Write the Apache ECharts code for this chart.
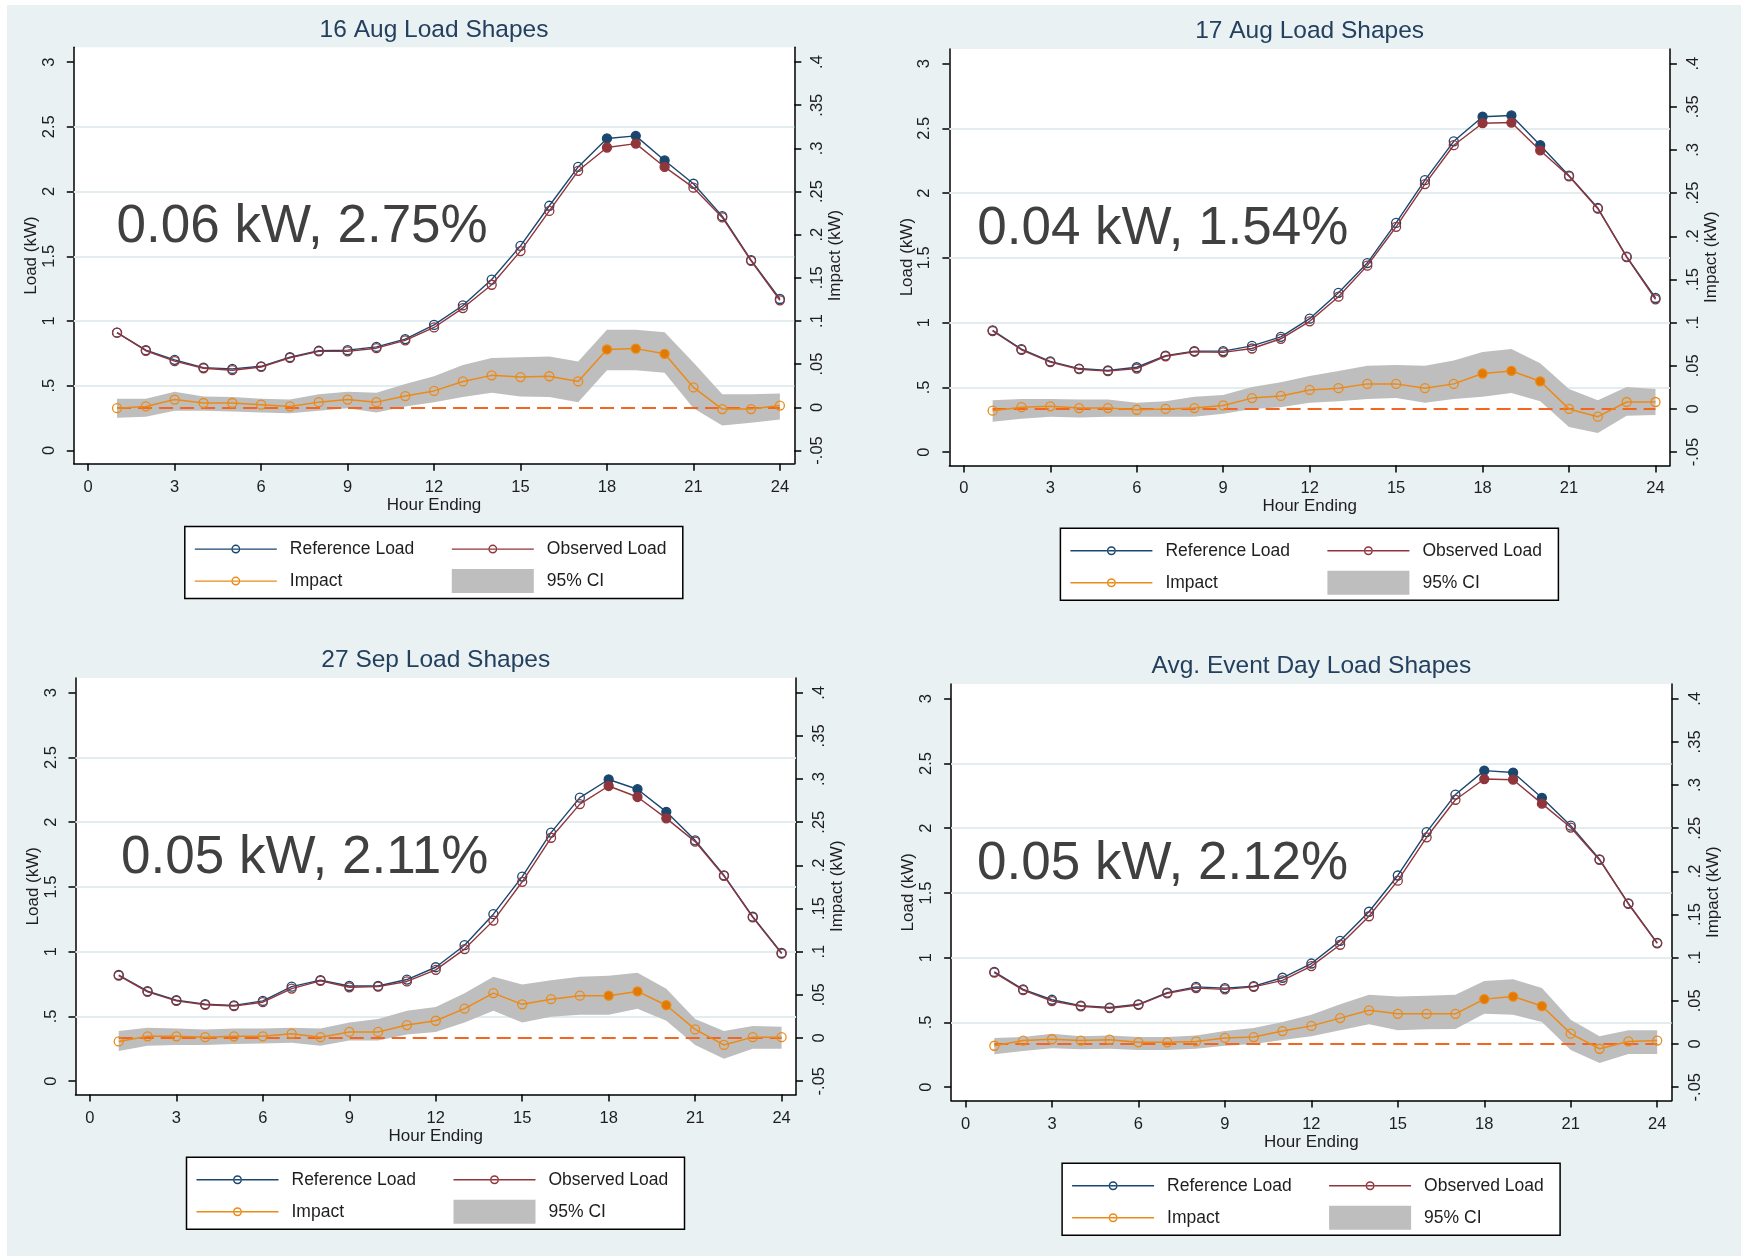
<!DOCTYPE html>
<html>
<head>
<meta charset="utf-8">
<title>Event Day Load Shapes</title>
<script src="https://cdn.jsdelivr.net/npm/echarts@6/dist/echarts.min.js"></script>
<style>
  html, body { margin: 0; padding: 0; background: #fff; }
  #chart { position: absolute; left: 7px; top: 5px; width: 1734px; height: 1251px; }
</style>
</head>
<body>
<div id="chart"></div>
<script>
// hours and tick values
const hours = [1, 2, 3, 4, 5, 6, 7, 8, 9, 10, 11, 12, 13, 14, 15, 16, 17, 18, 19, 20, 21, 22, 23, 24];
const eventHours = [18, 19, 20];
const hourTicks = [0, 3, 6, 9, 12, 15, 18, 21, 24];
const loadTicks = [0, 0.5, 1, 1.5, 2, 2.5, 3];
const impactTicks = [-0.05, 0, 0.05, 0.1, 0.15, 0.2, 0.25, 0.3, 0.35, 0.4];
const loadGridLines = [0.5, 1, 1.5, 2, 2.5];

const panelTitles = ['16 Aug Load Shapes', '17 Aug Load Shapes', '27 Sep Load Shapes', 'Avg. Event Day Load Shapes'];
const impactNotes = ['0.06 kW, 2.75%', '0.04 kW, 1.54%', '0.05 kW, 2.11%', '0.05 kW, 2.12%'];

// one row per panel (16 Aug, 17 Aug, 27 Sep, average)
const referenceLoad = [
  [0.91, 0.775, 0.70, 0.64, 0.63, 0.65, 0.72, 0.77, 0.775, 0.80, 0.86, 0.97, 1.12, 1.32, 1.58, 1.89, 2.19, 2.41, 2.43, 2.24, 2.06, 1.81, 1.47, 1.17],
  [0.94, 0.795, 0.70, 0.645, 0.63, 0.655, 0.745, 0.78, 0.78, 0.82, 0.89, 1.03, 1.23, 1.46, 1.77, 2.10, 2.40, 2.59, 2.60, 2.37, 2.135, 1.885, 1.51, 1.19],
  [0.82, 0.695, 0.625, 0.595, 0.585, 0.62, 0.73, 0.78, 0.735, 0.735, 0.785, 0.88, 1.05, 1.29, 1.58, 1.92, 2.19, 2.33, 2.255, 2.08, 1.86, 1.59, 1.27, 0.99],
  [0.89, 0.755, 0.675, 0.63, 0.615, 0.64, 0.73, 0.775, 0.765, 0.78, 0.845, 0.955, 1.13, 1.355, 1.635, 1.97, 2.26, 2.445, 2.43, 2.235, 2.02, 1.76, 1.42, 1.115]
];
const observedLoad = [
  [0.91, 0.77, 0.69, 0.635, 0.62, 0.645, 0.715, 0.765, 0.765, 0.79, 0.85, 0.95, 1.10, 1.28, 1.54, 1.85, 2.16, 2.34, 2.37, 2.19, 2.03, 1.80, 1.465, 1.16],
  [0.935, 0.79, 0.695, 0.64, 0.625, 0.645, 0.74, 0.775, 0.77, 0.80, 0.875, 1.01, 1.20, 1.44, 1.74, 2.07, 2.37, 2.54, 2.545, 2.33, 2.13, 1.88, 1.505, 1.18],
  [0.815, 0.69, 0.62, 0.59, 0.58, 0.61, 0.715, 0.775, 0.725, 0.73, 0.77, 0.86, 1.02, 1.24, 1.54, 1.88, 2.14, 2.28, 2.195, 2.03, 1.85, 1.585, 1.265, 0.985],
  [0.885, 0.75, 0.665, 0.625, 0.61, 0.635, 0.725, 0.765, 0.755, 0.775, 0.825, 0.935, 1.10, 1.32, 1.595, 1.93, 2.22, 2.38, 2.375, 2.19, 2.005, 1.755, 1.415, 1.11]
];
const impact = [
  [-0.001, 0.001, 0.009, 0.005, 0.005, 0.003, 0.001, 0.006, 0.009, 0.006, 0.013, 0.019, 0.030, 0.037, 0.035, 0.036, 0.030, 0.067, 0.068, 0.062, 0.023, -0.002, -0.002, 0.002],
  [-0.002, 0.002, 0.003, 0.001, 0.001, -0.001, 0, 0.001, 0.004, 0.0125, 0.015, 0.022, 0.024, 0.029, 0.029, 0.024, 0.029, 0.041, 0.044, 0.032, 0.000, -0.009, 0.008, 0.008],
  [-0.004, 0.002, 0.002, 0.001, 0.002, 0.002, 0.005, 0.001, 0.007, 0.007, 0.015, 0.020, 0.034, 0.052, 0.039, 0.045, 0.049, 0.049, 0.054, 0.038, 0.010, -0.008, 0.001, 0.001],
  [-0.002, 0.004, 0.0055, 0.004, 0.005, 0.002, 0.002, 0.003, 0.007, 0.008, 0.015, 0.021, 0.030, 0.039, 0.035, 0.035, 0.035, 0.052, 0.055, 0.044, 0.012, -0.0055, 0.003, 0.004]
];
const ciLower = [
  [-0.012, -0.011, -0.004, -0.004, -0.005, -0.006, -0.007, -0.004, -0.001, -0.006, 0.001, 0.006, 0.012, 0.017, 0.0125, 0.012, 0.006, 0.043, 0.043, 0.040, -0.001, -0.021, -0.018, -0.014],
  [-0.015, -0.0115, -0.009, -0.010, -0.009, -0.009, -0.009, -0.009, -0.0055, 0, 0.002, 0.007, 0.009, 0.0115, 0.0125, 0.007, 0.0115, 0.014, 0.0185, 0.009, -0.021, -0.028, -0.008, -0.007],
  [-0.015, -0.009, -0.008, -0.008, -0.007, -0.0065, -0.0055, -0.009, -0.003, -0.003, 0.004, 0.007, 0.018, 0.0315, 0.018, 0.0245, 0.027, 0.027, 0.034, 0.020, -0.008, -0.024, -0.0125, -0.0125],
  [-0.012, -0.008, -0.005, -0.006, -0.0055, -0.007, -0.007, -0.0055, -0.002, 0, 0.0045, 0.009, 0.016, 0.023, 0.016, 0.017, 0.0175, 0.035, 0.034, 0.0255, -0.007, -0.022, -0.0115, -0.0115]
];
const ciUpper = [
  [0.010, 0.010, 0.018, 0.0125, 0.012, 0.010, 0.009, 0.015, 0.018, 0.017, 0.027, 0.036, 0.049, 0.057, 0.058, 0.059, 0.053, 0.090, 0.090, 0.087, 0.052, 0.015, 0.015, 0.016],
  [0.010, 0.0115, 0.0115, 0.011, 0.011, 0.007, 0.009, 0.014, 0.016, 0.0255, 0.031, 0.038, 0.044, 0.050, 0.051, 0.050, 0.056, 0.066, 0.0695, 0.053, 0.023, 0.010, 0.0255, 0.023],
  [0.008, 0.012, 0.011, 0.010, 0.011, 0.011, 0.012, 0.011, 0.018, 0.022, 0.0315, 0.036, 0.052, 0.071, 0.062, 0.067, 0.071, 0.072, 0.0755, 0.057, 0.022, 0.008, 0.014, 0.013],
  [0.007, 0.008, 0.012, 0.009, 0.010, 0.008, 0.008, 0.010, 0.015, 0.0185, 0.0255, 0.034, 0.046, 0.057, 0.055, 0.056, 0.057, 0.073, 0.075, 0.065, 0.028, 0.009, 0.016, 0.016]
];

// layout (page pixels; chart div sits at 7,5)
const pageX = 7, pageY = 5;
const gridLeft = [73.8, 949.4, 75.5, 951.1];
const gridTop = [47.3, 48.9, 678, 684];
const gridW = 720.5, gridH = 416.5;
const noteLeft = [42.7, 27.8, 45.5, 25.9];

const NAVY = '#1a476f', MAROON = '#90353b', ORANGE = '#ec8a17', ORANGE_DK = '#e07a05', BAND = '#bebebe';
const ZERO = '#f4661f', GRIDLINE = '#e3edf0', TXT = '#1e1e1e', TITLE = '#24405f';
const FONT = '"Liberation Sans", Arial, sans-serif';

// legend icons: line with small hollow circle, and grey box
const lineIcon = 'path://M0,0M90,24M0,11.3H36.5V12.7H0ZM45.5,11.3H82V12.7H45.5ZM38.2,11.3H43.8V12.7H38.2Z' +
  'M36.5,12A4.5,4.5,0,1,0,45.5,12A4.5,4.5,0,1,0,36.5,12ZM38,12A3,3,0,1,1,44,12A3,3,0,1,1,38,12Z';
const boxIcon = 'path://M0,0M90,24M0,0H82V24H0Z';

function stataNum(v) {
  return String(+v.toFixed(4)).replace(/^(-?)0\./, '$1.');
}

function pointData(vals, color) {
  return hours.map((h, i) => eventHours.indexOf(h) >= 0
    ? { value: [h, vals[i]], symbol: 'circle', itemStyle: { color: color } }
    : [h, vals[i]]);
}

// whole CI band drawn once as a polygon through the axis scales
function bandRenderer(p) {
  return function (params, api) {
    if (params.dataIndex !== 0) return null;
    const upper = hours.map((h, i) => api.coord([h, ciUpper[p][i]]));
    const lower = hours.map((h, i) => api.coord([h, ciLower[p][i]])).reverse();
    return {
      type: 'polygon',
      shape: { points: upper.concat(lower) },
      style: { fill: BAND }
    };
  };
}

const chart = echarts.init(document.getElementById('chart'));

const grids = [], xAxes = [], yAxes = [], series = [], legends = [], graphics = [];
const axisLineStyle = { color: '#000', width: 1.5 };

panelTitles.forEach((title, p) => {
  const gl = gridLeft[p] - pageX, gt = gridTop[p] - pageY;
  grids.push({ left: gl, top: gt, width: gridW, height: gridH, show: true, backgroundColor: '#fff', borderWidth: 0 });

  xAxes.push({
    type: 'value', gridIndex: p, min: -0.5, max: 24.5,
    name: 'Hour Ending', nameLocation: 'middle', nameGap: 30,
    nameTextStyle: { fontSize: 17, color: TXT },
    axisLine: { show: true, onZero: false, lineStyle: axisLineStyle },
    axisTick: { show: true, length: 7, customValues: hourTicks, lineStyle: axisLineStyle },
    axisLabel: { customValues: hourTicks, margin: 15, fontSize: 16.5, color: TXT },
    splitLine: { show: false }
  });

  yAxes.push({
    type: 'value', gridIndex: p, position: 'left', min: -0.103, max: 3.114,
    name: 'Load (kW)', nameLocation: 'middle', nameGap: 33,
    nameTextStyle: { fontSize: 17, color: TXT },
    axisLine: { show: true, onZero: false, lineStyle: axisLineStyle },
    axisTick: { show: true, length: 7, customValues: loadTicks, lineStyle: axisLineStyle },
    axisLabel: { customValues: loadTicks, rotate: 90, margin: 16, fontSize: 16.5, color: TXT, formatter: stataNum },
    splitLine: { show: false }
  });
  yAxes.push({
    type: 'value', gridIndex: p, position: 'right', min: -0.06545, max: 0.4171,
    name: 'Impact (kW)', nameLocation: 'middle', nameGap: 30,
    nameTextStyle: { fontSize: 17, color: TXT },
    axisLine: { show: true, onZero: false, lineStyle: axisLineStyle },
    axisTick: { show: true, length: 7, customValues: impactTicks, lineStyle: axisLineStyle },
    axisLabel: { customValues: impactTicks, rotate: 90, margin: 15, fontSize: 16.5, color: TXT, formatter: stataNum },
    splitLine: { show: false }
  });

  const leftY = 2 * p, rightY = 2 * p + 1;

  series.push({
    type: 'custom', name: '95% CI', xAxisIndex: p, yAxisIndex: rightY, z: 2, silent: true,
    itemStyle: { color: BAND },
    data: hours.map((h, i) => [h, ciLower[p][i], ciUpper[p][i]]),
    encode: { x: 0, y: [1, 2] },
    renderItem: bandRenderer(p)
  });

  series.push({
    type: 'line', name: 'Impact', xAxisIndex: p, yAxisIndex: rightY, z: 4,
    symbol: 'circle', symbolSize: 9,
    lineStyle: { color: ORANGE, width: 1.5 },
    itemStyle: { color: 'rgba(255,255,255,0)', borderColor: ORANGE, borderWidth: 1.3 },
    data: pointData(impact[p], ORANGE_DK),
    markLine: {
      silent: true, z: 3, symbol: ['none', 'none'], label: { show: false },
      lineStyle: { color: ZERO, type: [14, 7], width: 2 },
      data: [[{ coord: [hours[0], 0] }, { coord: [hours[hours.length - 1], 0] }]]
    }
  });

  series.push({
    type: 'line', name: 'Reference Load', xAxisIndex: p, yAxisIndex: leftY, z: 5,
    symbol: 'circle', symbolSize: 9,
    lineStyle: { color: NAVY, width: 1.4 },
    itemStyle: { color: 'rgba(255,255,255,0)', borderColor: NAVY, borderWidth: 1.3 },
    data: pointData(referenceLoad[p], NAVY),
    markLine: {
      silent: true, z: 1, symbol: ['none', 'none'], label: { show: false },
      lineStyle: { color: GRIDLINE, type: 'solid', width: 2 },
      data: loadGridLines.map(v => ({ yAxis: v }))
    }
  });

  series.push({
    type: 'line', name: 'Observed Load', xAxisIndex: p, yAxisIndex: leftY, z: 6,
    symbol: 'circle', symbolSize: 9,
    lineStyle: { color: MAROON, width: 1.4 },
    itemStyle: { color: 'rgba(255,255,255,0)', borderColor: MAROON, borderWidth: 1.3 },
    data: pointData(observedLoad[p], MAROON)
  });

  legends.push({
    left: gl + 111, top: gt + 479.3, width: 480, orient: 'horizontal',
    itemWidth: 90, itemHeight: 24, itemGap: 8, selectedMode: false, symbolKeepAspect: true,
    padding: [10.5, 16, 5.5, 10], borderColor: '#000', borderWidth: 1.5, backgroundColor: '#fff',
    textStyle: { fontSize: 17.5, color: TXT, width: 154, lineHeight: 20 },
    data: [
      { name: 'Reference Load', icon: lineIcon, itemStyle: { color: NAVY, borderWidth: 0 } },
      { name: 'Observed Load', icon: lineIcon, itemStyle: { color: MAROON, borderWidth: 0 }, textStyle: { width: 120 } },
      { name: 'Impact', icon: lineIcon, itemStyle: { color: ORANGE, borderWidth: 0 } },
      { name: '95% CI', icon: boxIcon, itemStyle: { color: BAND, borderWidth: 0 }, textStyle: { width: 120 } }
    ]
  });

  graphics.push({
    type: 'text', z: 10, x: gl + gridW / 2, y: gt - 17.5,
    style: { text: title, align: 'center', verticalAlign: 'middle', font: '24.5px ' + FONT, fill: TITLE }
  });
  graphics.push({
    type: 'text', z: 10, x: gl + noteLeft[p], y: gt + 180,
    style: { text: impactNotes[p], align: 'left', verticalAlign: 'middle', font: '53px ' + FONT, fill: '#404040' }
  });
});

chart.setOption({
  backgroundColor: '#e9f1f3',
  animation: false,
  textStyle: { fontFamily: FONT },
  grid: grids,
  xAxis: xAxes,
  yAxis: yAxes,
  legend: legends,
  series: series,
  graphic: graphics
});
</script>
</body>
</html>
